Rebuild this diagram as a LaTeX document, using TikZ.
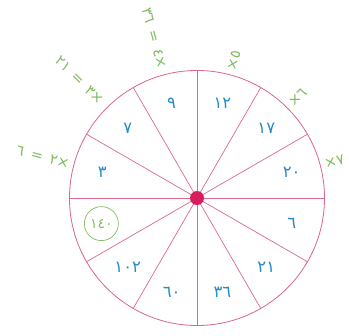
\documentclass[tikz,border=0pt]{standalone}
\usepackage{fontspec}
\usetikzlibrary{positioning,calc}
\TeXXeTstate=1
\newfontfamily\digitfont{DejaVu Sans}
\definecolor{Rim}{RGB}{218,106,138}
\definecolor{HubRed}{RGB}{214,30,92}
\definecolor{NumBlue}{RGB}{38,140,200}
\definecolor{HintGreen}{RGB}{130,188,98}
\tikzset{
  wheel/.style={circle,draw=Rim,line width=0.7pt,minimum size=7.65cm,inner sep=0pt},
  hub/.style={circle,fill=HubRed,minimum size=0.42cm,inner sep=0pt},
  spoke/.style={draw=Rim,line width=0.6pt},
  sector/.style={font=\digitfont\fontsize{14}{16}\selectfont,text=NumBlue,inner sep=1pt},
  ringed/.style={circle,draw=HintGreen,line width=0.6pt,minimum size=1.02cm,inner sep=0pt,
    font=\digitfont\fontsize{12}{14}\selectfont,text=HintGreen},
  hintR/.style={font=\digitfont\fontsize{12.5}{14}\selectfont,text=HintGreen,inner sep=0pt,anchor=west},
  hintL/.style={font=\digitfont\fontsize{12.5}{14}\selectfont,text=HintGreen,inner sep=0pt,anchor=east}
}
\begin{document}
\begin{tikzpicture}[x=0.03cm,y=0.03cm]
\useasboundingbox (-197,-137) rectangle (152,198);
\node[wheel](wheel)at(0,0){};
\foreach \a in {0,30,...,330}
  \draw[spoke](0,0)--(wheel.\a);
\node[hub](hub)at(0,0){};
\foreach \a/\n in {75/١٢,45/١٧,15/٢٠,-15/٦,-45/٢١,-75/٣٦,-105/٦٠,-135/١٠٢,165/٣,135/٧,105/٩}
  \node[sector](s\a)at(\a:98){\n};
\node[ringed](s-165)at(-165:99){١٤٠};
\node[hintR,rotate=75](h75)at(75:132){×٥};
\node[hintR,rotate=45](h45)at(45:132){×٦};
\node[hintR,rotate=15](h15)at(15:132){×٧};
\node[hintL,rotate=-15](h165)at(165:132){\beginR٢× \,=\, ٦\endR};
\node[hintL,rotate=-45](h135)at(135:135){\beginR٣× \,=\, \beginL٢١\endL\endR};
\node[hintL,rotate=-75](h105)at(105:134){\beginR٤× \,=\, \beginL٣٦\endL\endR};
\end{tikzpicture}
\end{document}
